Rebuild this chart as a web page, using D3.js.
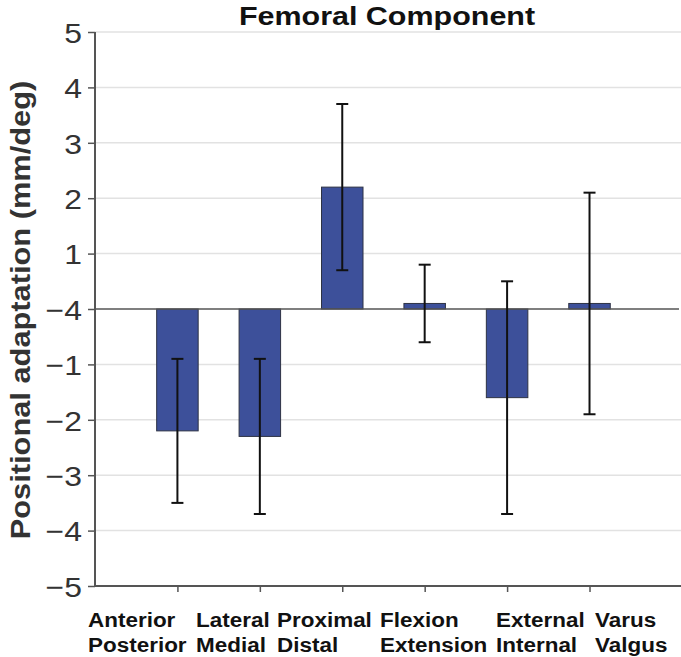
<!DOCTYPE html>
<html lang="en">
<head>
<meta charset="utf-8">
<style>
    body { margin: 0; background: #fff; }
    text { font-family: Arial, "Liberation Sans", sans-serif; }
    .grid line { stroke: #e2e2e2; stroke-width: 1.5; }
    .bar { fill: #3d509a; stroke: #2e3344; stroke-width: 1; }
    .err { stroke: #111; stroke-width: 2; fill: none; }
</style>
</head>
<body>
<svg width="681" height="657"></svg>
<script src="https://cdn.jsdelivr.net/npm/d3@7"></script>
<script>

    // data
    var topLabels = ["Anterior", "Lateral", "Proximal", "Flexion", "External", "Varus"];
    var bottomLabels = ["Posterior", "Medial", "Distal", "Extension", "Internal", "Valgus"];
    var means = [-2.2, -2.3, 2.2, 0.1, -1.6, 0.1];
    var errLow = [-3.5, -3.7, 0.7, -0.6, -3.7, -1.9];
    var errHigh = [-0.9, -0.9, 3.7, 0.8, 0.5, 2.1];
    var yTicks = [5, 4, 3, 2, 1, 0, -1, -2, -3, -4, -5];
    var yTickLabels = ["5", "4", "3", "2", "1", "\u22124", "\u22121", "\u22122", "\u22123", "\u22124", "\u22125"];

    var svg = d3.select("svg");

    var x = d3.scaleLinear().domain([0, 7.11]).range([95, 681]);
    var y = d3.scaleLinear().domain([-5, 5]).range([586, 32]);
    var barW = 41.5;

    // the original font is a bit wider than Liberation Sans, so text gets a small x-stretch
    function stretched(parent, tx, ty, rot, sx) {
        return parent.append("g")
            .attr("transform", "translate(" + tx + "," + ty + ") rotate(" + rot + ") scale(" + sx + ",1)")
            .append("text");
    }

    // gridlines
    svg.append("g").attr("class", "grid")
        .selectAll("line")
        .data(yTicks.filter(function (d) { return d !== 0 && d !== -5; }))
        .enter().append("line")
        .attr("x1", x(0)).attr("x2", x(7.11))
        .attr("y1", function (d) { return y(d); })
        .attr("y2", function (d) { return y(d); });

    // bars
    svg.selectAll(".bar")
        .data(means)
        .enter().append("rect")
        .attr("class", "bar")
        .attr("x", function (d, i) { return x(i + 1) - barW / 2; })
        .attr("width", barW)
        .attr("y", function (d) { return y(Math.max(0, d)); })
        .attr("height", function (d) { return Math.abs(y(d) - y(0)); });

    // zero line
    svg.append("line")
        .attr("x1", x(0)).attr("x2", 679)
        .attr("y1", y(0)).attr("y2", y(0))
        .attr("stroke", "#555").attr("stroke-width", 1.5);

    // error bars
    var eg = svg.append("g").attr("class", "err");
    means.forEach(function (d, i) {
        var cx = x(i + 1);
        eg.append("line").attr("x1", cx).attr("x2", cx)
            .attr("y1", y(errLow[i])).attr("y2", y(errHigh[i]));
        [errLow[i], errHigh[i]].forEach(function (v) {
            eg.append("line").attr("x1", cx - 6).attr("x2", cx + 6)
                .attr("y1", y(v)).attr("y2", y(v));
        });
    });

    // y axis
    var yAxis = svg.append("g")
        .attr("transform", "translate(" + x(0) + ",0)")
        .call(d3.axisLeft(y)
            .tickValues(yTicks)
            .tickSize(7)
            .tickFormat(function (d, i) { return yTickLabels[i]; }));
    yAxis.select(".domain").attr("stroke", "#555").attr("stroke-width", 2)
        .attr("d", "M0," + y(5) + "V" + y(-5));
    yAxis.selectAll(".tick line").attr("stroke", "#555").attr("stroke-width", 1.5);
    yAxis.selectAll(".tick text")
        .attr("x", 0)
        .attr("dy", "0.36em")
        .attr("transform", "translate(-13,0) scale(1.12,1)")
        .attr("fill", "#333")
        .style("font-size", "28.5px")
        .style("font-family", "Arial, 'Liberation Sans', sans-serif");

    // x axis
    var xAxis = svg.append("g")
        .attr("transform", "translate(0," + y(-5) + ")")
        .call(d3.axisBottom(x)
            .tickValues(d3.range(1, 7))
            .tickSize(6)
            .tickFormat(""));
    xAxis.select(".domain").attr("stroke", "#555").attr("stroke-width", 2)
        .attr("d", "M" + x(0) + ",0H681");
    xAxis.selectAll(".tick line").attr("stroke", "#555").attr("stroke-width", 1.5);

    // category labels, laid out in columns as in the figure
    var labelStart = [88, 196, 277, 380, 496, 595];
    topLabels.forEach(function (t, i) {
        var tx = stretched(svg, labelStart[i], 627, 0, 1.07)
            .attr("font-weight", "bold")
            .attr("font-size", "21px")
            .attr("fill", "#111");
        tx.append("tspan").attr("x", 0).text(t);
        tx.append("tspan").attr("x", 0).attr("dy", 25).text(bottomLabels[i]);
    });

    // title
    stretched(svg, 387, 25, 0, 1.15)
        .attr("text-anchor", "middle")
        .attr("font-weight", "bold")
        .attr("font-size", "26.5px")
        .attr("fill", "#111")
        .text("Femoral Component");

    // y axis title
    stretched(svg, 30, 310, -90, 1.10)
        .attr("text-anchor", "middle")
        .attr("font-weight", "bold")
        .attr("font-size", "28px")
        .attr("fill", "#333")
        .text("Positional adaptation (mm/deg)");

</script>
</body>
</html>
